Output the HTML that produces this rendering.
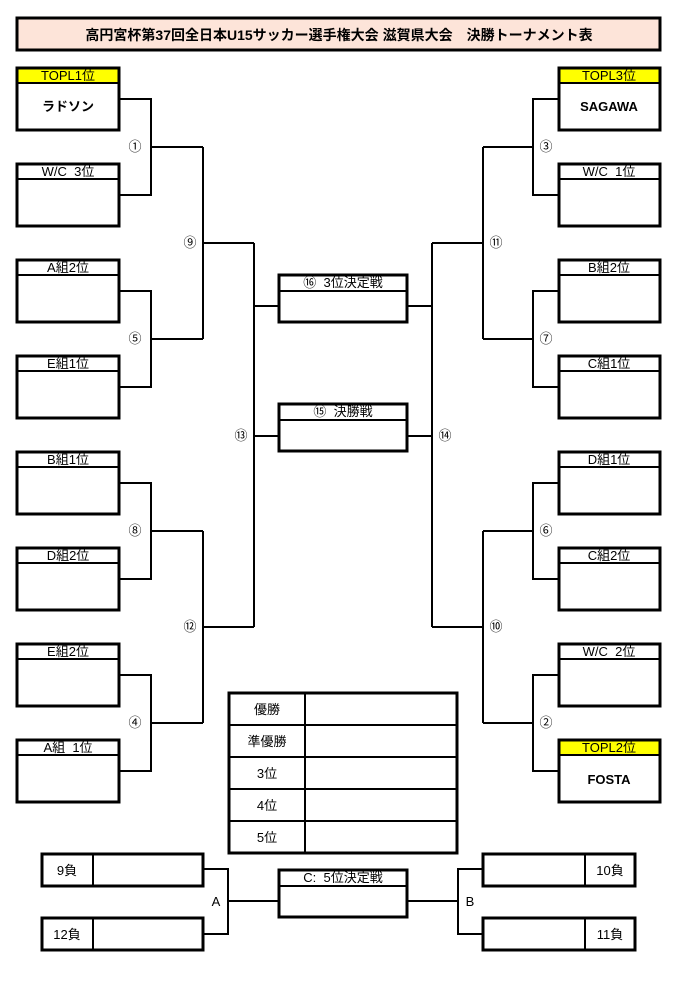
<!DOCTYPE html>
<html><head><meta charset="utf-8"><style>
body{margin:0;background:#fff;}
svg{display:block;font-family:"Liberation Sans","Noto Sans CJK JP",sans-serif;}
text{white-space:pre;}
</style></head><body>
<svg width="688" height="983" viewBox="0 0 688 983" xmlns="http://www.w3.org/2000/svg">
<rect x="17" y="18" width="643" height="32" fill="#fde4d9" stroke="#000" stroke-width="3"/>
<text x="339" y="40" text-anchor="middle" font-size="14" font-weight="bold">高円宮杯第37回全日本U15サッカー選手権大会 滋賀県大会　決勝トーナメント表</text>

<g fill="#fff" stroke="#000" stroke-width="3">
<rect x="17" y="68" width="102" height="62"/>
<rect x="17" y="164" width="102" height="62"/>
<rect x="17" y="260" width="102" height="62"/>
<rect x="17" y="356" width="102" height="62"/>
<rect x="17" y="452" width="102" height="62"/>
<rect x="17" y="548" width="102" height="62"/>
<rect x="17" y="644" width="102" height="62"/>
<rect x="17" y="740" width="102" height="62"/>
<rect x="559" y="68" width="101" height="62"/>
<rect x="559" y="164" width="101" height="62"/>
<rect x="559" y="260" width="101" height="62"/>
<rect x="559" y="356" width="101" height="62"/>
<rect x="559" y="452" width="101" height="62"/>
<rect x="559" y="548" width="101" height="62"/>
<rect x="559" y="644" width="101" height="62"/>
<rect x="559" y="740" width="101" height="62"/>
<rect x="279" y="275" width="128" height="47"/>
<rect x="279" y="404" width="128" height="47"/>
<rect x="279" y="870" width="128" height="47"/>
<rect x="229" y="693" width="228" height="160"/>
<rect x="42" y="854" width="161" height="32"/>
<rect x="42" y="918" width="161" height="32"/>
<rect x="483" y="854" width="152" height="32"/>
<rect x="483" y="918" width="152" height="32"/>
</g>
<g fill="#ffff00"><rect x="18.5" y="69.5" width="99" height="13"/><rect x="560.5" y="69.5" width="98" height="13"/><rect x="560.5" y="741.5" width="98" height="13"/></g>
<g stroke="#000" stroke-width="2" fill="none">
<path d="M17 83H119M17 179H119M17 275H119M17 371H119M17 467H119M17 563H119M17 659H119M17 755H119"/>
<path d="M559 83H660M559 179H660M559 275H660M559 371H660M559 467H660M559 563H660M559 659H660M559 755H660"/>
<path d="M279 291H407M279 420H407M279 886H407"/>
<path d="M305 693V853M229 725H457M229 757H457M229 789H457M229 821H457"/>
<path d="M93 854V886M93 918V950M585 854V886M585 918V950"/>
<path d="M119 99H151V195H119M151 147H203"/>
<path d="M119 291H151V387H119M151 339H203"/>
<path d="M119 483H151V579H119M151 531H203"/>
<path d="M119 675H151V771H119M151 723H203"/>
<path d="M203 147V339M203 243H254"/>
<path d="M203 531V723M203 627H254"/>
<path d="M254 243V627M254 306H279M254 436H279"/>
<path d="M559 99H533V195H559M533 147H483"/>
<path d="M559 291H533V387H559M533 339H483"/>
<path d="M559 483H533V579H559M533 531H483"/>
<path d="M559 675H533V771H559M533 723H483"/>
<path d="M483 147V339M483 243H432"/>
<path d="M483 531V723M483 627H432"/>
<path d="M432 243V627M432 306H407M432 436H407"/>
<path d="M203 869H228V934H203M228 901H279"/>
<path d="M483 869H458V934H483M458 901H407"/>
</g>
<g font-size="13" text-anchor="middle" fill="#000">
<text x="68" y="80">TOPL1位</text>
<text x="68" y="176">W/C  3位</text>
<text x="68" y="272">A組2位</text>
<text x="68" y="368">E組1位</text>
<text x="68" y="464">B組1位</text>
<text x="68" y="560">D組2位</text>
<text x="68" y="656">E組2位</text>
<text x="68" y="752">A組  1位</text>
<text x="609" y="80">TOPL3位</text>
<text x="609" y="176">W/C  1位</text>
<text x="609" y="272">B組2位</text>
<text x="609" y="368">C組1位</text>
<text x="609" y="464">D組1位</text>
<text x="609" y="560">C組2位</text>
<text x="609" y="656">W/C  2位</text>
<text x="609" y="752">TOPL2位</text>
<text x="68" y="111" font-weight="bold">ラドソン</text>
<text x="609" y="111" font-weight="bold">SAGAWA</text>
<text x="609" y="784" font-weight="bold">FOSTA</text>
<text x="343" y="287">⑯  3位決定戦</text>
<text x="343" y="416">⑮  決勝戦</text>
<text x="343" y="882">C:  5位決定戦</text>
<text x="267" y="714">優勝</text>
<text x="267" y="746">準優勝</text>
<text x="267" y="778">3位</text>
<text x="267" y="810">4位</text>
<text x="267" y="842">5位</text>
<text x="67" y="875">9負</text>
<text x="67" y="939">12負</text>
<text x="610" y="875">10負</text>
<text x="610" y="939">11負</text>
<text x="216" y="906">A</text>
<text x="470" y="906">B</text>
<text x="135" y="151">①</text>
<text x="190" y="247">⑨</text>
<text x="135" y="343">⑤</text>
<text x="241" y="440">⑬</text>
<text x="135" y="535">⑧</text>
<text x="190" y="631">⑫</text>
<text x="135" y="727">④</text>
<text x="546" y="151">③</text>
<text x="496" y="247">⑪</text>
<text x="546" y="343">⑦</text>
<text x="445" y="440">⑭</text>
<text x="546" y="535">⑥</text>
<text x="496" y="631">⑩</text>
<text x="546" y="727">②</text>
</g>
</svg>
</body></html>
